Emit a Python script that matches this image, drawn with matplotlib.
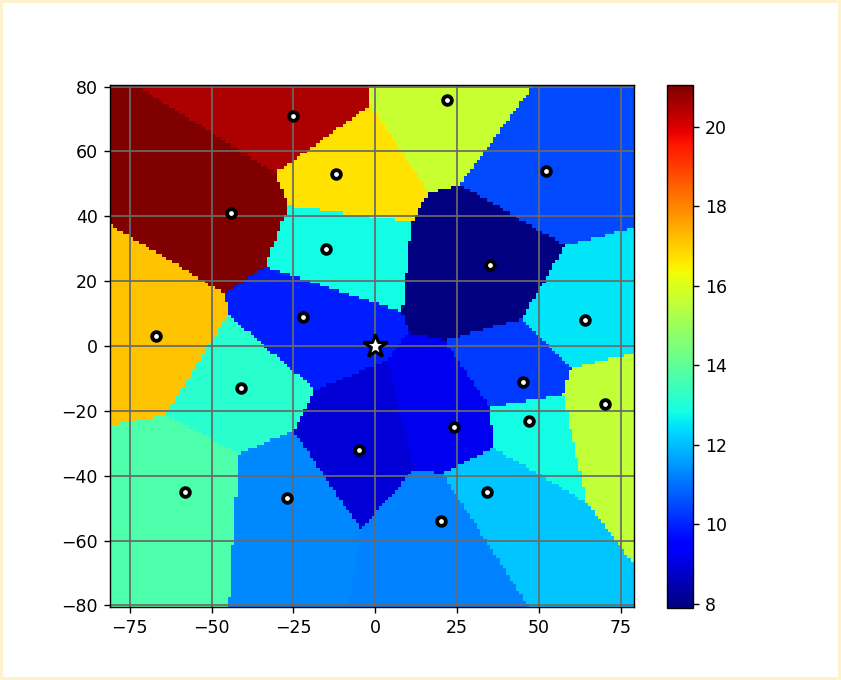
import numpy as np
import matplotlib
matplotlib.use('Agg')
import matplotlib.pyplot as plt
from matplotlib.patches import Rectangle

# seed sites and the value carried by each one
site_x = [-25, 22, 52, -12, -44, -15, 35, 64, -67, -22, -41, 45, 70, 47, 24, -5, -58, -27, 34, 20]
site_y = [71, 76, 54, 53, 41, 30, 25, 8, 3, 9, -13, -11, -18, -23, -25, -32, -45, -47, -45, -54]
site_val = [20.5, 15.7, 10.5, 16.7, 21.05, 12.8, 7.89, 12.5, 17.1, 9.9,
            13.15, 10.3, 15.6, 12.8, 9.2, 8.9, 13.7, 11.3, 12.1, 11.2]
center = (0, 0)

# raster cell edges
x_edges = np.arange(-81, 80, 1.0)
y_edges = np.arange(-80.5, 81, 1.0)
xc = (x_edges[:-1] + x_edges[1:]) / 2
yc = (y_edges[:-1] + y_edges[1:]) / 2
gx, gy = np.meshgrid(xc, yc)

sx = np.array(site_x, dtype=float)
sy = np.array(site_y, dtype=float)
d2 = (gx[..., None] - sx) ** 2 + (gy[..., None] - sy) ** 2
nearest = np.argmin(d2, axis=-1)
field = np.array(site_val)[nearest]

W, H = 841, 680
fig = plt.figure(figsize=(W / 125, H / 125), dpi=125)
fig.patch.set_facecolor('#FFF2CF')
fig.add_artist(Rectangle((3 / W, 3 / H), (W - 6) / W, (H - 6) / H,
                         transform=fig.transFigure, facecolor='white',
                         edgecolor='none', zorder=-1))

ax = fig.add_axes([110 / W, 73 / H, 524 / W, 522 / H])
mesh = ax.pcolormesh(x_edges, y_edges, field, cmap='jet',
                     vmin=min(site_val), vmax=max(site_val))
ax.grid(True, color='#6a6a6a', linewidth=1.0)
ax.plot(site_x, site_y, 'o', color='white', markeredgecolor='black',
        markersize=5, markeredgewidth=2.2, zorder=3)
ax.plot(center[0], center[1], '*', color='white', markeredgecolor='black',
        markersize=14, markeredgewidth=1.8, zorder=4)
ax.set_xlim(x_edges[0], x_edges[-1])
ax.set_ylim(y_edges[0], y_edges[-1])
ax.set_xticks([-75, -50, -25, 0, 25, 50, 75])
ax.set_yticks([-80, -60, -40, -20, 0, 20, 40, 60, 80])

cax = fig.add_axes([667 / W, 72 / H, 26 / W, 523 / H])
fig.colorbar(mesh, cax=cax)

fig.savefig('out.png', dpi=125)
